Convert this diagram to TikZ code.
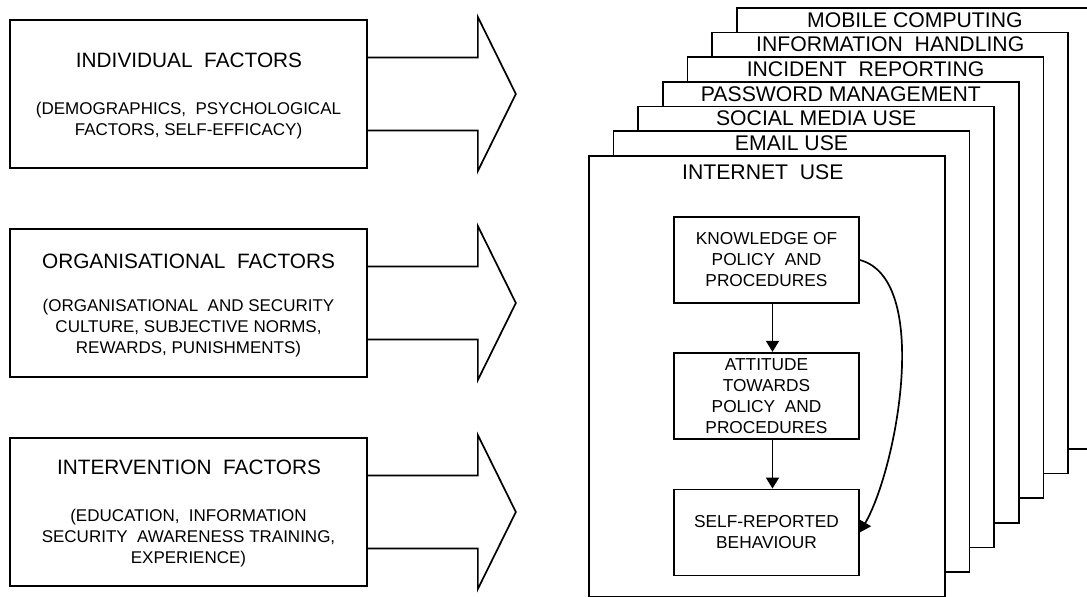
\documentclass[tikz,border=0pt]{standalone}
\usepackage{fontspec}
\setmainfont{Liberation Sans}
\usetikzlibrary{arrows.meta,positioning}
\tikzset{
  box/.style={draw, line width=1.7pt, rectangle, inner sep=0pt},
  factor/.style={box, minimum width=357pt, minimum height=148pt},
  factortitle/.style={inner sep=0pt, font=\fontsize{20.8}{24}\selectfont},
  factorsub/.style={inner sep=0pt, align=center, font=\fontsize{17}{21}\selectfont},
  page/.style={box, fill=white, minimum width=356pt, minimum height=441pt, anchor=north west},
  pagetitle/.style={inner sep=0pt, font=\fontsize{21.2}{24}\selectfont},
  modelbox/.style={box, minimum width=185pt, minimum height=86pt, align=center, font=\fontsize{17.3}{21}\selectfont},
  fat/.style={line width=1.7pt},
  link/.style={line width=1.7pt, -{Triangle[length=11pt,width=13pt]}}
}
\begin{document}
\begin{tikzpicture}[x=1pt,y=-1pt]
  \useasboundingbox (0,0) rectangle (1087,597);
  \node[factor] (indiv) at (188.5,94) {};
  \node[factor] (org) at (188.5,303) {};
  \node[factor] (interv) at (188.5,512) {};
  \node[factortitle] (indivt) at (189,60) {INDIVIDUAL\ \ FACTORS};
  \node[factorsub] (indivs) at (188.5,121) {(DEMOGRAPHICS,\ \ PSYCHOLOGICAL\\FACTORS, SELF-EFFICACY)};
  \node[factortitle] (orgt) at (188.5,261) {ORGANISATIONAL\ \ FACTORS};
  \node[factorsub] (orgs) at (188.5,328) {(ORGANISATIONAL\ \ AND SECURITY\\CULTURE,\ SUBJECTIVE NORMS,\\REWARDS, PUNISHMENTS)};
  \node[factortitle] (intervt) at (189,467) {INTERVENTION\ \ FACTORS};
  \node[factorsub] (intervs) at (188.5,538) {(EDUCATION,\ \ INFORMATION\\SECURITY\ \ AWARENESS TRAINING,\\EXPERIENCE)};
  \foreach \f in {indiv,org,interv}
    \draw[fat] (\f.east) ++(0,-36.5) -- ++(110,0) -- ++(0,-40.5) -- ++(38,77)
      -- ++(-38,77) -- ++(0,-40.5) -- ++(-110,0);
  \foreach \i/\name in {6/MOBILE COMPUTING,5/INFORMATION\ \ HANDLING,4/INCIDENT\ \ REPORTING,
      3/PASSWORD MANAGEMENT,2/SOCIAL MEDIA USE,1/EMAIL USE}{
    \node[page] (p\i) at (588+24.67*\i,155-24.67*\i) {};
    \node[pagetitle] (t\i) at ([yshift=-13pt]p\i.north) {\name};
  }
  \node[page] (p0) at (588,155) {};
  \node[pagetitle] (t0) at ([yshift=-17pt,xshift=-4pt]p0.north) {INTERNET\ \ USE};
  \node[modelbox] (know) at (766.5,260) {KNOWLEDGE OF\\POLICY\ \ AND\\PROCEDURES};
  \node[modelbox, below=48pt of know] (att) {ATTITUDE\\TOWARDS\\POLICY\ \ AND\\PROCEDURES};
  \node[modelbox, below=49pt of att] (self) {SELF-REPORTED\\BEHAVIOUR};
  \draw[link] ([xshift=6pt]know.south) -- ([xshift=6pt]att.north);
  \draw[link] ([xshift=6pt]att.south) -- ([xshift=6pt]self.north);
  \draw[link] (know.east) to[out=-15,in=60,looseness=0.7] (self.east);
\end{tikzpicture}
\end{document}
